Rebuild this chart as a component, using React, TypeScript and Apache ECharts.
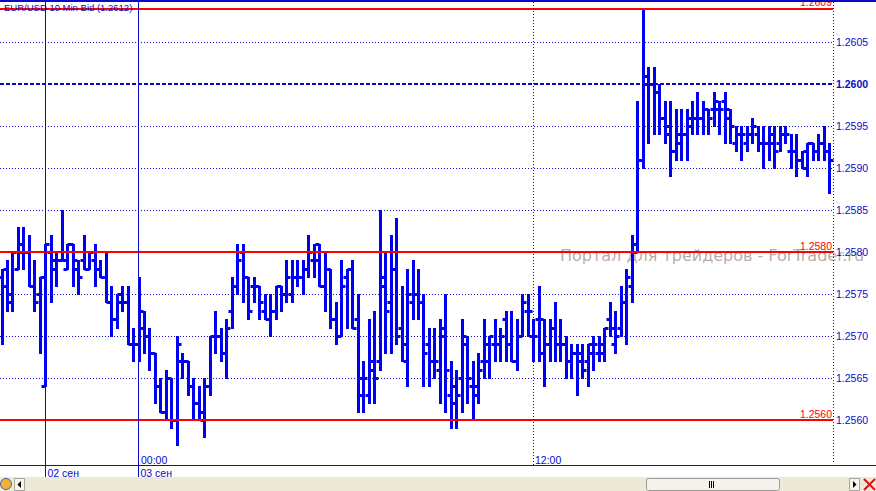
import React, { useEffect, useRef } from "react";
import * as echarts from "echarts";

// ---- DATA (EUR/USD 10 Min Bid) ----
const opens = [
  1.2577, 1.2578, 1.2574, 1.2578, 1.2580, 1.2580, 1.2576, 1.2575, 1.2564, 1.2580,
  1.2579, 1.2579, 1.2578, 1.2581, 1.2578, 1.2579, 1.2578, 1.2579, 1.2578, 1.2577,
  1.2574, 1.2572, 1.2574, 1.2574, 1.2569, 1.2569, 1.2571, 1.2570, 1.2568, 1.2564,
  1.2561, 1.2565, 1.2560, 1.2567, 1.2567, 1.2564, 1.2562, 1.2560, 1.2564, 1.2570,
  1.2570, 1.2568, 1.2573, 1.2576, 1.2580, 1.2577, 1.2576, 1.2576, 1.2573, 1.2572,
  1.2573, 1.2576, 1.2575, 1.2575, 1.2577, 1.2577, 1.2578, 1.2579, 1.2581, 1.2576,
  1.2578, 1.2572, 1.2570, 1.2577, 1.2578, 1.2572, 1.2563, 1.2563, 1.2566, 1.2567,
  1.2576, 1.2574, 1.2578, 1.2571, 1.2567, 1.2574, 1.2575, 1.2574, 1.2569, 1.2567,
  1.2566, 1.2570, 1.2563, 1.2564, 1.2565, 1.2569, 1.2564, 1.2563, 1.2567, 1.2567,
  1.2569, 1.2569, 1.2572, 1.2569, 1.2567, 1.2570, 1.2573, 1.2570, 1.2572, 1.2568,
  1.2569, 1.2571, 1.2569, 1.2569, 1.2567, 1.2568, 1.2567, 1.2567, 1.2568, 1.2568,
  1.2569, 1.2572, 1.2569, 1.2571, 1.2574, 1.2576, 1.2580, 1.2591, 1.2600, 1.2600,
  1.2599, 1.2596, 1.2594, 1.2592, 1.2593, 1.2594, 1.2596, 1.2596, 1.2596, 1.2597,
  1.2597, 1.2597, 1.2598, 1.2596, 1.2593, 1.2594, 1.2593, 1.2594, 1.2594, 1.2593,
  1.2593, 1.2593, 1.2593, 1.2594, 1.2592, 1.2592, 1.2591, 1.2592, 1.2593, 1.2592,
  1.2593, 1.2592,
];
const highs = [
  1.2578, 1.2579, 1.2580, 1.2583, 1.2583, 1.2582, 1.2579, 1.2577, 1.2581, 1.2582,
  1.2580, 1.2585, 1.2581, 1.2581, 1.2579, 1.2582, 1.2580, 1.2581, 1.2579, 1.2580,
  1.2576, 1.2575, 1.2576, 1.2576, 1.2571, 1.2577, 1.2573, 1.2571, 1.2568, 1.2565,
  1.2566, 1.2565, 1.2570, 1.2568, 1.2567, 1.2565, 1.2564, 1.2565, 1.2570, 1.2573,
  1.2571, 1.2572, 1.2577, 1.2581, 1.2581, 1.2577, 1.2577, 1.2576, 1.2575, 1.2575,
  1.2576, 1.2576, 1.2579, 1.2579, 1.2579, 1.2579, 1.2582, 1.2581, 1.2581, 1.2580,
  1.2578, 1.2574, 1.2579, 1.2578, 1.2579, 1.2575, 1.2567, 1.2572, 1.2573, 1.2585,
  1.2580, 1.2582, 1.2584, 1.2576, 1.2578, 1.2579, 1.2578, 1.2575, 1.2571, 1.2571,
  1.2572, 1.2575, 1.2567, 1.2566, 1.2572, 1.2570, 1.2567, 1.2568, 1.2572, 1.2570,
  1.2572, 1.2571, 1.2573, 1.2573, 1.2572, 1.2575, 1.2575, 1.2572, 1.2576, 1.2572,
  1.2572, 1.2574, 1.2572, 1.2570, 1.2569, 1.2569, 1.2569, 1.2569, 1.2570, 1.2570,
  1.2571, 1.2574, 1.2573, 1.2576, 1.2578, 1.2582, 1.2598, 1.2609, 1.2602, 1.2602,
  1.2600, 1.2598, 1.2598, 1.2597, 1.2597, 1.2597, 1.2598, 1.2599, 1.2598, 1.2597,
  1.2599, 1.2598, 1.2599, 1.2597, 1.2595, 1.2595, 1.2595, 1.2596, 1.2595, 1.2595,
  1.2595, 1.2595, 1.2595, 1.2595, 1.2594, 1.2594, 1.2592, 1.2593, 1.2593, 1.2594,
  1.2595, 1.2593,
];
const lows = [
  1.2569, 1.2573, 1.2573, 1.2578, 1.2578, 1.2576, 1.2573, 1.2568, 1.2564, 1.2574,
  1.2576, 1.2579, 1.2578, 1.2576, 1.2575, 1.2578, 1.2578, 1.2576, 1.2577, 1.2574,
  1.2570, 1.2571, 1.2573, 1.2569, 1.2567, 1.2567, 1.2568, 1.2566, 1.2562, 1.2561,
  1.2560, 1.2559, 1.2557, 1.2565, 1.2563, 1.2560, 1.2560, 1.2558, 1.2563, 1.2568,
  1.2567, 1.2565, 1.2571, 1.2575, 1.2574, 1.2572, 1.2574, 1.2572, 1.2572, 1.2570,
  1.2572, 1.2573, 1.2574, 1.2574, 1.2576, 1.2575, 1.2577, 1.2577, 1.2576, 1.2573,
  1.2571, 1.2569, 1.2570, 1.2571, 1.2571, 1.2561, 1.2561, 1.2562, 1.2562, 1.2566,
  1.2568, 1.2568, 1.2569, 1.2567, 1.2564, 1.2572, 1.2572, 1.2564, 1.2564, 1.2565,
  1.2562, 1.2561, 1.2559, 1.2559, 1.2561, 1.2562, 1.2560, 1.2562, 1.2565, 1.2565,
  1.2567, 1.2567, 1.2567, 1.2567, 1.2566, 1.2570, 1.2570, 1.2567, 1.2567, 1.2564,
  1.2567, 1.2567, 1.2567, 1.2565, 1.2565, 1.2563, 1.2565, 1.2564, 1.2566, 1.2567,
  1.2567, 1.2570, 1.2568, 1.2570, 1.2569, 1.2574, 1.2580, 1.2590, 1.2593, 1.2594,
  1.2594, 1.2593, 1.2589, 1.2591, 1.2591, 1.2591, 1.2594, 1.2594, 1.2594, 1.2594,
  1.2595, 1.2594, 1.2593, 1.2593, 1.2592, 1.2591, 1.2592, 1.2593, 1.2592, 1.2590,
  1.2591, 1.2590, 1.2592, 1.2593, 1.2590, 1.2589, 1.2590, 1.2589, 1.2591, 1.2591,
  1.2591, 1.2587,
];
const closes = [
  1.2576, 1.2575, 1.2580, 1.2581, 1.2580, 1.2576, 1.2574, 1.2577, 1.2581, 1.2578,
  1.2579, 1.2579, 1.2581, 1.2579, 1.2577, 1.2578, 1.2580, 1.2578, 1.2577, 1.2574,
  1.2572, 1.2575, 1.2574, 1.2569, 1.2569, 1.2573, 1.2570, 1.2568, 1.2564, 1.2561,
  1.2565, 1.2560, 1.2569, 1.2567, 1.2564, 1.2562, 1.2561, 1.2564, 1.2570, 1.2570,
  1.2568, 1.2571, 1.2576, 1.2579, 1.2577, 1.2573, 1.2576, 1.2574, 1.2572, 1.2573,
  1.2576, 1.2575, 1.2577, 1.2577, 1.2577, 1.2578, 1.2580, 1.2579, 1.2576, 1.2578,
  1.2572, 1.2570, 1.2576, 1.2578, 1.2571, 1.2565, 1.2565, 1.2567, 1.2565, 1.2577,
  1.2573, 1.2578, 1.2570, 1.2569, 1.2575, 1.2575, 1.2574, 1.2568, 1.2567, 1.2567,
  1.2571, 1.2566, 1.2562, 1.2563, 1.2570, 1.2565, 1.2564, 1.2566, 1.2569, 1.2570,
  1.2569, 1.2570, 1.2569, 1.2567, 1.2570, 1.2574, 1.2573, 1.2570, 1.2572, 1.2569,
  1.2571, 1.2569, 1.2569, 1.2567, 1.2568, 1.2568, 1.2566, 1.2569, 1.2569, 1.2568,
  1.2571, 1.2571, 1.2570, 1.2574, 1.2577, 1.2581, 1.2591, 1.2601, 1.2600, 1.2599,
  1.2596, 1.2595, 1.2592, 1.2594, 1.2594, 1.2595, 1.2596, 1.2596, 1.2597, 1.2596,
  1.2598, 1.2597, 1.2597, 1.2595, 1.2594, 1.2594, 1.2594, 1.2595, 1.2593, 1.2593,
  1.2594, 1.2592, 1.2594, 1.2594, 1.2592, 1.2591, 1.2590, 1.2593, 1.2592, 1.2593,
  1.2592, 1.2591,
];

const gridLevels = [1.2560, 1.2565, 1.2570, 1.2575, 1.2580, 1.2585, 1.2590, 1.2595, 1.2600, 1.2605];
const majorLevel = 1.2600;
const redLevels = [1.2560, 1.2580, 1.2609];
const dayMarks = [
  { idx: 8, label: "02 сен" },
  { idx: 25, label: "03 сен" },
];
const timeMarks = [
  { idx: 25, label: "00:00", solid: true },
  { idx: 97, label: "12:00", solid: false },
];
const titleText = "EUR/USD 10 Min Bid (1.2612)";
const watermarkText = "Портал для трейдеров - ForTrader.ru";

const BLUE = "#0a0ac8";
const BAR = "#0000f2";
const RED = "#ff0000";
const FONT = "Liberation Sans, Arial, sans-serif";

export default function App() {
  const ref = useRef<HTMLDivElement>(null);

  useEffect(() => {
    if (!ref.current) return;
    const chart = echarts.init(ref.current, null, { renderer: "svg" });
    const data = opens.map((o, i) => [i, o, highs[i], lows[i], closes[i]]);
    const closeLine = closes.map((c, i) => [i, c]);

    const hiddenLine = {
      type: "line",
      data: closeLine,
      showSymbol: false,
      silent: true,
      lineStyle: { opacity: 0 },
    };

    const option: any = {
      animation: false,
      backgroundColor: "#ffffff",
      grid: { left: 0, right: 43, top: 1, bottom: 26 },
      xAxis: { type: "value", min: -0.365, max: 151.64, show: false },
      yAxis: { type: "value", min: 1.2554643, max: 1.2609881, show: false, scale: true },
      series: [
        {
          ...hiddenLine,
          z: 1,
          markLine: {
            silent: true,
            symbol: "none",
            animation: false,
            precision: 4,
            data: gridLevels.map((v) => ({
              yAxis: v,
              lineStyle:
                v === majorLevel
                  ? { type: [4, 2], width: 2, color: BLUE }
                  : { type: [1, 2], width: 1, color: BLUE },
              label: {
                show: true,
                position: "end",
                distance: 3,
                formatter: v.toFixed(4),
                color: BLUE,
                fontSize: 10.5,
                fontFamily: FONT,
                fontWeight: v === majorLevel ? "bold" : "normal",
              },
            })),
          },
        },
        {
          type: "custom",
          z: 2,
          clip: false,
          data,
          encode: { x: 0, y: [1, 2, 3, 4] },
          renderItem: (params: any, api: any) => {
            const i = api.value(0);
            const o = api.coord([i, api.value(1)]);
            const h = api.coord([i, api.value(2)]);
            const l = api.coord([i, api.value(3)]);
            const c = api.coord([i, api.value(4)]);
            const x = Math.floor(h[0]) + 0.5;
            const st = { stroke: BAR, lineWidth: 3 };
            const oy = Math.round(o[1]) + 0.5;
            const cy = Math.round(c[1]) + 0.5;
            return {
              type: "group",
              children: [
                { type: "line", shape: { x1: x, y1: Math.round(h[1]), x2: x, y2: Math.round(l[1]) + 1 }, style: st },
                { type: "line", shape: { x1: x - 4, y1: oy, x2: x, y2: oy }, style: st },
                { type: "line", shape: { x1: x, y1: cy, x2: x + 4, y2: cy }, style: st },
              ],
            };
          },
        },
        {
          ...hiddenLine,
          z: 3,
          markLine: {
            silent: true,
            symbol: "none",
            animation: false,
            precision: 4,
            data: redLevels.map((v) => ({
              yAxis: v,
              lineStyle: { type: "solid", width: 2, color: RED },
              label: {
                show: true,
                position: "insideEndTop",
                distance: [1, 1],
                formatter: v.toFixed(4),
                color: RED,
                fontSize: 10.5,
                fontFamily: FONT,
              },
            })),
          },
        },
      ],
    };
    chart.setOption(option);

    const px = (i: number) => chart.convertToPixel({ gridIndex: 0 } as any, [i, 1.258])[0];
    const g: any[] = [];
    g.push({
      type: "text",
      x: 560,
      y: 247,
      z: 1,
      silent: true,
      style: { text: watermarkText, fill: "rgba(150,135,135,0.7)", font: `16px DejaVu Sans, sans-serif`, textVerticalAlign: "top" },
    });
    g.push({ type: "rect", z: 20, shape: { x: 0, y: 0, width: 876, height: 2 }, style: { fill: BLUE } });
    g.push({
      type: "line",
      z: 20,
      shape: { x1: 833.5, y1: 2, x2: 833.5, y2: 462 },
      style: { stroke: BLUE, lineWidth: 1, lineDash: [1, 2] },
    });
    g.push({ type: "line", z: 20, shape: { x1: 0, y1: 465.5, x2: 876, y2: 465.5 }, style: { stroke: BLUE, lineWidth: 1 } });
    dayMarks.forEach((d) => {
      const x = Math.floor(px(d.idx) - 0.5) + 0.5;
      g.push({ type: "line", z: 20, shape: { x1: x, y1: 2, x2: x, y2: 477 }, style: { stroke: BLUE, lineWidth: 1 } });
      g.push({
        type: "text",
        z: 20,
        x: x + 2,
        y: 472.5,
        style: { text: d.label, fill: BLUE, font: `10.5px ${FONT}`, textVerticalAlign: "middle" },
      });
    });
    timeMarks.forEach((t) => {
      const x = Math.floor(px(t.idx)) + 0.5;
      if (!t.solid) {
        g.push({
          type: "line",
          z: 20,
          shape: { x1: x, y1: 2, x2: x, y2: 465 },
          style: { stroke: BLUE, lineWidth: 1, lineDash: [1, 2] },
        });
      }
      g.push({
        type: "text",
        z: 20,
        x: x + 1.5,
        y: 459.5,
        style: { text: t.label, fill: BLUE, font: `10.5px ${FONT}`, textVerticalAlign: "middle" },
      });
    });
    g.push({
      type: "text",
      z: 21,
      x: 4,
      y: 7.5,
      style: { text: titleText, fill: BLUE, font: `9.5px ${FONT}`, textVerticalAlign: "middle" },
    });
    g.push({ type: "rect", z: 20, shape: { x: 0, y: 477, width: 876, height: 14 }, style: { fill: "#ece9d8" } });
    g.push({ type: "circle", z: 21, shape: { cx: 6, cy: 484, r: 5.5 }, style: { fill: "#f2b134", stroke: "#3a5fb0", lineWidth: 1 } });
    g.push({ type: "rect", z: 21, shape: { x: 14.5, y: 478.5, width: 10, height: 12 }, style: { fill: "#f6f5f0", stroke: "#a7a69c", lineWidth: 1 } });
    g.push({ type: "polygon", z: 22, shape: { points: [[21, 481], [21, 488], [17.5, 484.5]] }, style: { fill: "#000" } });
    g.push({ type: "rect", z: 21, shape: { x: 646.5, y: 478.5, width: 133, height: 12, r: 2 }, style: { fill: "#f3f2ec", stroke: "#9d9d95", lineWidth: 1 } });
    [709.5, 711.5, 713.5].forEach((gx) =>
      g.push({ type: "line", z: 22, shape: { x1: gx, y1: 481, x2: gx, y2: 488 }, style: { stroke: "#000", lineWidth: 1 } })
    );
    g.push({ type: "rect", z: 21, shape: { x: 849.5, y: 478.5, width: 10, height: 12 }, style: { fill: "#f6f5f0", stroke: "#a7a69c", lineWidth: 1 } });
    g.push({ type: "polygon", z: 22, shape: { points: [[853, 481], [853, 488], [856.5, 484.5]] }, style: { fill: "#000" } });
    g.push({ type: "line", z: 22, shape: { x1: 864, y1: 479, x2: 875, y2: 490 }, style: { stroke: "#e01010", lineWidth: 2 } });
    g.push({ type: "line", z: 22, shape: { x1: 875, y1: 479, x2: 864, y2: 490 }, style: { stroke: "#e01010", lineWidth: 2 } });

    chart.setOption({ graphic: g });
    return () => chart.dispose();
  }, []);

  return <div ref={ref} style={{ position: "absolute", left: 0, top: 0, width: 876, height: 491 }} />;
}
